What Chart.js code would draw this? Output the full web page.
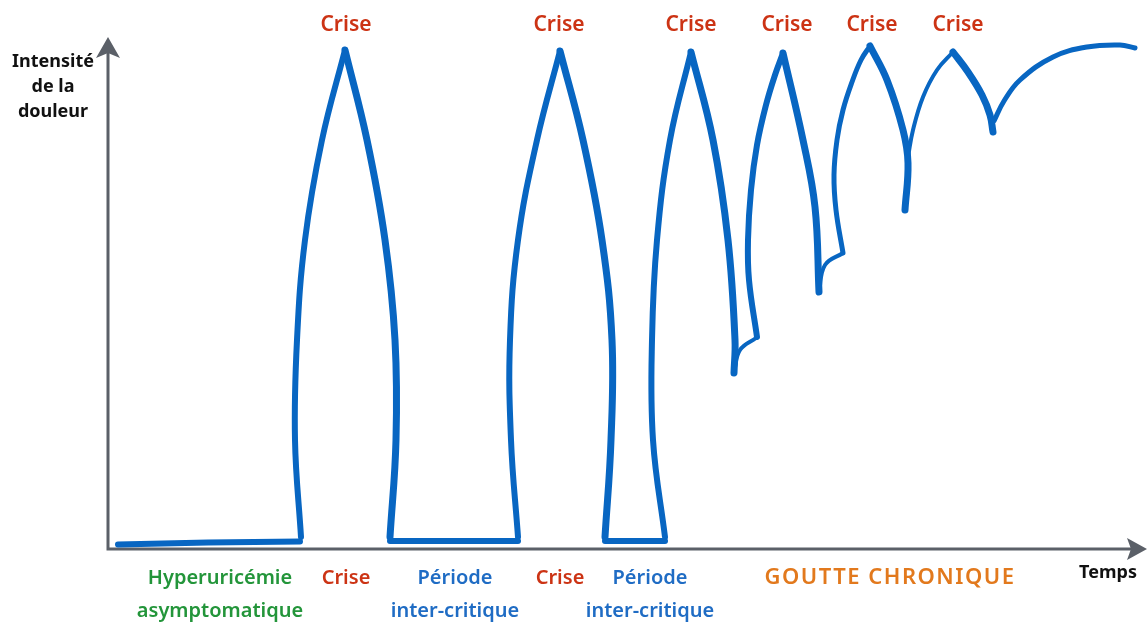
<!DOCTYPE html>
<html>
<head>
<meta charset="utf-8">
<script src="https://cdn.jsdelivr.net/npm/chart.js@4"></script>
<style>
  html, body { margin: 0; padding: 0; background: #fff; }
  #wrap { width: 1148px; height: 627px; position: relative; }
</style>
</head>
<body>
<div id="wrap"><canvas id="graf"></canvas></div>
<script>
// Valeurs : temps (0-104) et intensite de la douleur (0-102)
const palier1 = [[1.0, 0.9], [10, 1.3], [19.2, 1.5]];
const montee1 = [[19.3, 2.4], [18.7, 21.8], [18.9, 41.8], [19.7, 61.8], [21.4, 81.8], [23.7, 99.8]];
const descente1 = [[23.7, 99.8], [25.9, 81.8], [27.7, 61.8], [28.7, 41.8], [28.8, 21.8], [28.2, 2.4]];
const palier2 = [[28.2, 1.6], [41.0, 1.6]];
const montee2 = [[41.0, 2.4], [40.3, 21.8], [40.2, 41.8], [41.0, 61.8], [42.9, 81.8], [45.2, 99.6]];
const descente2 = [[45.2, 99.6], [47.5, 81.8], [49.4, 61.8], [50.4, 41.8], [50.3, 21.8], [49.7, 2.4]];
const palier3 = [[49.7, 1.6], [55.7, 1.6]];
const montee3 = [[55.7, 2.4], [54.5, 21.8], [54.4, 41.8], [54.9, 61.8], [56.2, 81.8], [58.3, 99.4]];
const descente3 = [[58.3, 99.4], [60.5, 81.8], [62.0, 61.8], [62.7, 41.8], [62.6, 35.2]];
const crochet3 = [[62.6, 35.4], [63.2, 39.8], [64.8, 42.2]];
const montee4 = [[64.9, 42.4], [64.1, 53.8], [64.0, 61.8], [64.3, 71.8], [64.9, 80.8], [65.8, 88.8], [66.7, 94.8], [67.5, 99.2]];
const descente4 = [[67.5, 99.2], [69.5, 81.8], [70.7, 68.4], [71.1, 51.4]];
const crochet4 = [[71.1, 51.4], [71.7, 56.8], [73.5, 59.2]];
const montee5 = [[73.5, 59.2], [72.8, 67.8], [72.6, 74.8], [72.9, 81.8], [73.5, 87.8], [74.4, 93.4], [75.3, 97.8], [76.2, 100.6]];
const descente5 = [[76.2, 100.6], [77.9, 93.8], [79.5, 83.8], [80.0, 77.2], [79.7, 67.8]];
const montee6 = [[80.0, 78.4], [80.5, 83.8], [81.5, 90.4], [82.9, 95.8], [84.5, 99.4]];
const descente6 = [[84.5, 99.4], [86.0, 95.4], [87.4, 90.8], [88.2, 86.8], [88.5, 83.4]];
const chronique = [[88.6, 85.6], [89.6, 89.6], [91.2, 93.8], [94.5, 98.4], [97.9, 100.4], [101.2, 100.8], [102.7, 100.2]];

// Etiquettes
const crisesHaut = [23.8, 45.1, 58.3, 67.9, 76.4, 85.0];
const etiquettesBas = [
  { x: 11.2, lignes: ['Hyperuricémie', 'asymptomatique'], couleur: '#23953a' },
  { x: 23.8, lignes: ['Crise'], couleur: '#cc3314' },
  { x: 34.7, lignes: ['Période', 'inter-critique'], couleur: '#1f6cc4' },
  { x: 45.2, lignes: ['Crise'], couleur: '#cc3314' },
  { x: 54.2, lignes: ['Période', 'inter-critique'], couleur: '#1f6cc4' },
  { x: 78.2, lignes: ['GOUTTE CHRONIQUE'], couleur: '#e2791d' }
];

const BLEU = '#0866c2';
const POLICE = '"Noto Sans", sans-serif';

function serie(points, epaisseur) {
  return {
    data: points.map(p => ({ x: p[0], y: p[1] })),
    showLine: true,
    borderColor: BLEU,
    borderWidth: epaisseur,
    pointRadius: 0,
    tension: 0.4,
    borderCapStyle: 'round',
    borderJoinStyle: 'round',
    fill: false
  };
}

const decor = {
  id: 'decor',
  beforeDatasetsDraw(chart) {
    const { ctx, chartArea: a } = chart;
    ctx.save();
    ctx.strokeStyle = '#5b6068';
    ctx.fillStyle = '#5b6068';
    ctx.lineWidth = 3;
    // axes
    ctx.beginPath();
    ctx.moveTo(a.left, 52);
    ctx.lineTo(a.left, a.bottom);
    ctx.lineTo(1132, a.bottom);
    ctx.stroke();
    // fleche verticale
    ctx.beginPath();
    ctx.moveTo(a.left, 37);
    ctx.lineTo(a.left + 12, 58);
    ctx.lineTo(a.left, 53);
    ctx.lineTo(a.left - 12, 58);
    ctx.closePath();
    ctx.fill();
    // fleche horizontale
    ctx.beginPath();
    ctx.moveTo(1147, a.bottom);
    ctx.lineTo(1127, a.bottom - 11);
    ctx.lineTo(1131, a.bottom);
    ctx.lineTo(1127, a.bottom + 11);
    ctx.closePath();
    ctx.fill();
    ctx.restore();
  },
  afterDraw(chart) {
    const { ctx } = chart;
    const sx = chart.scales.x, sy = chart.scales.y;
    ctx.save();
    ctx.textAlign = 'center';
    ctx.textBaseline = 'middle';

    ctx.fillStyle = '#111';
    ctx.font = '700 18px ' + POLICE;
    ['Intensité', 'de la', 'douleur'].forEach((t, i) => ctx.fillText(t, 53, 62 + i * 25));
    ctx.fillText('Temps', sx.getPixelForValue(100), 573);

    ctx.fillStyle = '#cc3314';
    ctx.font = '600 21px ' + POLICE;
    crisesHaut.forEach(x => ctx.fillText('Crise', sx.getPixelForValue(x), sy.getPixelForValue(104.8)));

    etiquettesBas.forEach(e => {
      ctx.fillStyle = e.couleur;
      ctx.font = '600 20px ' + POLICE;
      if (e.lignes[0] === 'GOUTTE CHRONIQUE') {
        ctx.font = '600 22px ' + POLICE;
        ctx.letterSpacing = '1.5px';
      } else {
        ctx.letterSpacing = '0px';
      }
      e.lignes.forEach((t, i) => ctx.fillText(t, sx.getPixelForValue(e.x), 578 + i * 33));
    });
    ctx.restore();
  }
};

new Chart(document.getElementById('graf'), {
  type: 'scatter',
  data: {
    datasets: [
      serie(palier1, 6), serie(montee1, 6), serie(descente1, 7),
      serie(palier2, 6), serie(montee2, 6), serie(descente2, 7),
      serie(palier3, 6), serie(montee3, 6), serie(descente3, 7),
      serie(crochet3, 4), serie(montee4, 6), serie(descente4, 7),
      serie(crochet4, 4), serie(montee5, 5), serie(descente5, 7),
      serie(montee6, 4), serie(descente6, 7), serie(chronique, 5)
    ]
  },
  options: {
    responsive: true,
    maintainAspectRatio: false,
    animation: false,
    layout: { padding: { left: 108, right: 0, top: 39, bottom: 78 } },
    plugins: { legend: { display: false }, tooltip: { enabled: false } },
    scales: {
      x: { type: 'linear', min: 0, max: 104, display: false },
      y: { type: 'linear', min: 0, max: 102, display: false }
    }
  },
  plugins: [decor]
});
</script>
</body>
</html>
